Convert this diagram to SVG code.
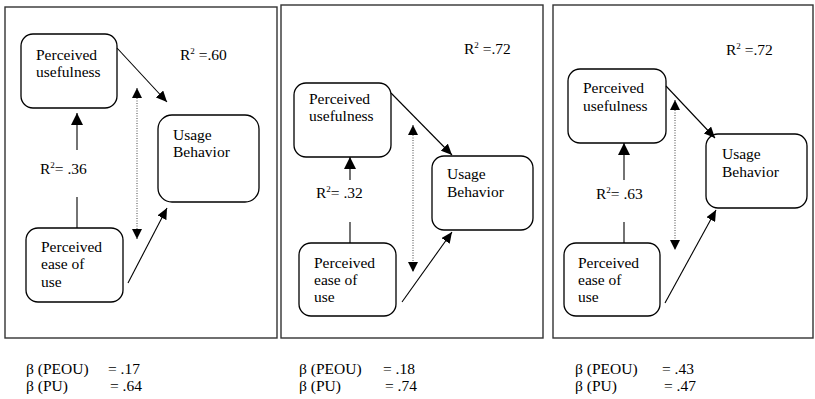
<svg xmlns="http://www.w3.org/2000/svg" width="815" height="399" viewBox="0 0 815 399">
<style>
.frame{fill:#fff;stroke:#333;stroke-width:1.4}
.box{fill:#fff;stroke:#000;stroke-width:1.3}
.t{font-family:"Liberation Serif","Times New Roman",serif;font-size:15.5px;fill:#000}
.sup{font-size:9px}
.ln{stroke:#000;stroke-width:1.1;fill:none}
.dot{stroke:#444;stroke-width:1;stroke-dasharray:1 1.5;fill:none}
</style>
<defs>
<marker id="ah" markerUnits="userSpaceOnUse" markerWidth="12" markerHeight="12" refX="12" refY="6" orient="auto"><path d="M0,0 L12,6 L0,12 z" fill="#000"/></marker>
<marker id="ahs" markerUnits="userSpaceOnUse" markerWidth="11" markerHeight="10" refX="11" refY="5" orient="auto"><path d="M0,0 L11,5 L0,10 z" fill="#000"/></marker>
<marker id="ahd" markerUnits="userSpaceOnUse" markerWidth="10" markerHeight="10" refX="10" refY="5" orient="auto-start-reverse"><path d="M0,0 L10,5 L0,10 z" fill="#000"/></marker>
</defs>
<rect fill="#fff" x="0" y="0" width="815" height="399"/>
<!-- Panel frames -->
<g id="panel1"><rect class="frame" x="5" y="7" width="272" height="331"/></g>
<g id="panel2"><rect class="frame" x="281" y="5" width="262" height="333"/></g>
<g id="panel3"><rect class="frame" x="553" y="5" width="260" height="333"/></g>

<!-- Panel 1 nodes -->
<g id="p1-pu"><rect class="box" x="21" y="34" width="96" height="74" rx="12"/><text class="t" x="36" y="60">Perceived</text><text class="t" x="36" y="77">usefulness</text></g>
<g id="p1-ub"><rect class="box" x="158" y="115" width="101" height="87" rx="14"/><text class="t" x="173" y="140">Usage</text><text class="t" x="173" y="157">Behavior</text></g>
<g id="p1-peou"><rect class="box" x="26" y="228" width="97" height="74" rx="12"/><text class="t" x="41" y="252">Perceived</text><text class="t" x="41" y="269">ease of</text><text class="t" x="41" y="287">use</text></g>
<g id="p1-labels"><text class="t" x="180" y="60">R<tspan class="sup" dy="-6">2</tspan><tspan dy="6"> =.60</tspan></text><text class="t" x="40" y="174">R<tspan class="sup" dy="-6">2</tspan><tspan dy="6">= .36</tspan></text></g>

<!-- Panel 2 nodes -->
<g id="p2-pu"><rect class="box" x="294" y="83" width="97" height="74" rx="12"/><text class="t" x="309" y="104">Perceived</text><text class="t" x="309" y="121">usefulness</text></g>
<g id="p2-ub"><rect class="box" x="432" y="156" width="101" height="74" rx="12"/><text class="t" x="447" y="179">Usage</text><text class="t" x="447" y="197">Behavior</text></g>
<g id="p2-peou"><rect class="box" x="299" y="243" width="97" height="73" rx="12"/><text class="t" x="314" y="268">Perceived</text><text class="t" x="314" y="285">ease of</text><text class="t" x="314" y="302">use</text></g>
<g id="p2-labels"><text class="t" x="464" y="54">R<tspan class="sup" dy="-6">2</tspan><tspan dy="6"> =.72</tspan></text><text class="t" x="316" y="198">R<tspan class="sup" dy="-6">2</tspan><tspan dy="6">= .32</tspan></text></g>

<!-- Panel 3 nodes -->
<g id="p3-pu"><rect class="box" x="568" y="69" width="98" height="74" rx="12"/><text class="t" x="583" y="93">Perceived</text><text class="t" x="583" y="111">usefulness</text></g>
<g id="p3-ub"><rect class="box" x="706" y="134" width="101" height="74" rx="12"/><text class="t" x="722" y="159">Usage</text><text class="t" x="722" y="177">Behavior</text></g>
<g id="p3-peou"><rect class="box" x="564" y="243" width="96" height="73" rx="12"/><text class="t" x="578" y="268">Perceived</text><text class="t" x="578" y="285">ease of</text><text class="t" x="578" y="302">use</text></g>
<g id="p3-labels"><text class="t" x="726" y="55">R<tspan class="sup" dy="-6">2</tspan><tspan dy="6"> =.72</tspan></text><text class="t" x="596" y="199">R<tspan class="sup" dy="-6">2</tspan><tspan dy="6">= .63</tspan></text></g>

<!-- Connectors -->
<g id="connectors">
<line class="ln" x1="77" y1="150" x2="77" y2="113" marker-end="url(#ah)"/>
<line class="ln" x1="77" y1="197" x2="77" y2="228"/>
<line class="ln" x1="117" y1="48" x2="167" y2="102" marker-end="url(#ahs)"/>
<line class="ln" x1="128" y1="283" x2="167" y2="208" marker-end="url(#ahs)"/>
<line class="dot" x1="137" y1="88" x2="137" y2="239" marker-start="url(#ahd)" marker-end="url(#ahd)"/>

<line class="ln" x1="350" y1="180" x2="350" y2="157" marker-end="url(#ah)"/>
<line class="ln" x1="350" y1="222" x2="350" y2="243"/>
<line class="ln" x1="391" y1="93" x2="452" y2="155" marker-end="url(#ahs)"/>
<line class="ln" x1="402" y1="302" x2="452" y2="232" marker-end="url(#ahs)"/>
<line class="dot" x1="413" y1="125" x2="413" y2="272" marker-start="url(#ahd)" marker-end="url(#ahd)"/>

<line class="ln" x1="624" y1="180" x2="624" y2="143" marker-end="url(#ah)"/>
<line class="ln" x1="624" y1="222" x2="624" y2="243"/>
<line class="ln" x1="666" y1="86" x2="715" y2="138" marker-end="url(#ahs)"/>
<line class="ln" x1="665" y1="303" x2="716" y2="210" marker-end="url(#ahs)"/>
<line class="dot" x1="675" y1="100" x2="675" y2="250" marker-start="url(#ahd)" marker-end="url(#ahd)"/>
</g>

<!-- Coefficients -->
<g id="coefficients">
<text class="t" x="26" y="374">β (PEOU)</text><text class="t" x="108" y="374">= .17</text>
<text class="t" x="26" y="391">β (PU)</text><text class="t" x="110" y="391">= .64</text>
<text class="t" x="299" y="374">β (PEOU)</text><text class="t" x="383" y="374">= .18</text>
<text class="t" x="299" y="391">β (PU)</text><text class="t" x="385" y="391">= .74</text>
<text class="t" x="575" y="374">β (PEOU)</text><text class="t" x="662" y="374">= .43</text>
<text class="t" x="575" y="391">β (PU)</text><text class="t" x="664" y="391">= .47</text>
</g>
</svg>
